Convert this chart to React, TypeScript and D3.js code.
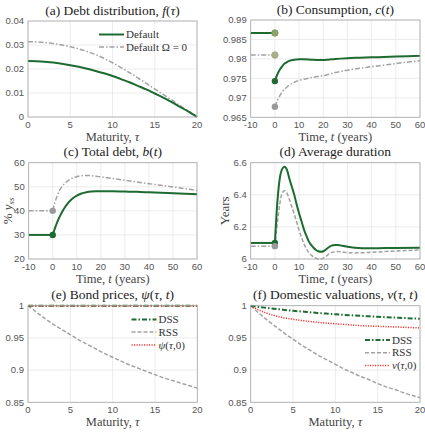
import React from "react"
import * as d3 from "d3"

const W = 425
const H = 436

const serif = "'Liberation Serif', 'Times New Roman', serif"
const sans = "'Liberation Sans', Arial, sans-serif"

const green = "#1d6b31"
const grey = "#a2a2a2"
const red = "#ee3a36"

// (a) debt distribution over maturity
const tau = [0, 1, 2, 3, 4, 5, 6, 7, 8, 9, 10, 11, 12, 13, 14, 15, 16, 17, 18, 19, 20]
const fDefault = [0.0233, 0.0232, 0.023, 0.0227, 0.0222, 0.0216, 0.0209, 0.0201, 0.0192, 0.0182, 0.0171,
  0.0158, 0.0145, 0.013, 0.0115, 0.0098, 0.0081, 0.0062, 0.0042, 0.0022, 0]
const fOmega0 = [0.0314, 0.0313, 0.031, 0.0306, 0.03, 0.0293, 0.0284, 0.0273, 0.026, 0.0244, 0.0226,
  0.0206, 0.0185, 0.0163, 0.014, 0.0117, 0.0094, 0.0071, 0.0047, 0.0024, 0]

// (b) consumption
const cPre = [0.98666, 0.981]
const tB = [0, 1, 2, 3, 4, 5, 6, 8, 10, 12, 15, 18, 20, 22, 25, 30, 35, 40, 45, 50, 55, 60]
const cDefault = [0.9743, 0.976, 0.9772, 0.9781, 0.9788, 0.9792, 0.9795, 0.9798, 0.9799, 0.9799, 0.9798,
  0.9797, 0.9797, 0.9798, 0.98, 0.9802, 0.9803, 0.9804, 0.9805, 0.9806, 0.9807, 0.9808]
const cOmega0 = [0.9677, 0.9693, 0.9705, 0.9715, 0.9722, 0.9728, 0.9733, 0.974, 0.9745, 0.9748, 0.9752,
  0.9755, 0.9757, 0.976, 0.9765, 0.9771, 0.9776, 0.978, 0.9784, 0.9788, 0.9792, 0.9795]

// (c) total debt
const bPre = [30, 40]
const tC = [0, 1, 2, 3, 4, 5, 6, 8, 10, 12, 14, 16, 18, 20, 25, 30, 35, 40, 45, 50, 55, 60]
const bDefault = [30, 33, 35.6, 37.8, 39.7, 41.4, 42.8, 44.9, 46.3, 47.2, 47.7, 48, 48.1, 48.1, 48.1, 48,
  47.9, 47.7, 47.5, 47.3, 47.1, 46.9]
const bOmega0 = [40, 43.8, 46.6, 48.8, 50.3, 51.4, 52.3, 53.5, 54.2, 54.6, 54.7, 54.6, 54.4, 54.1, 53.4,
  52.7, 52, 51.3, 50.6, 49.9, 49.2, 48.5]

// (d) average duration
const dPre = [6.1, 6.08]
const tD = [0, 1, 2, 3, 4, 5, 6, 7, 8, 9, 10, 11, 12, 13, 14, 15, 16, 17, 18, 19, 20, 21, 22, 23, 24, 25,
  26, 28, 30, 33, 36, 40, 50, 60]
const dDefault = [6.1, 6.35, 6.5, 6.56, 6.575, 6.555, 6.5, 6.45, 6.4, 6.34, 6.285, 6.235, 6.185, 6.145,
  6.11, 6.088, 6.07, 6.056, 6.048, 6.045, 6.048, 6.058, 6.07, 6.08, 6.086, 6.088, 6.087, 6.082, 6.076,
  6.07, 6.067, 6.067, 6.069, 6.07]
const dOmega0 = [6.08, 6.22, 6.34, 6.41, 6.425, 6.41, 6.37, 6.325, 6.28, 6.23, 6.18, 6.135, 6.095, 6.065,
  6.04, 6.025, 6.012, 6.005, 6.0, 6.0, 6.005, 6.015, 6.027, 6.037, 6.043, 6.046, 6.046, 6.043, 6.04,
  6.038, 6.039, 6.042, 6.05, 6.056]

// (e) bond prices
const psiDSS = [1, 1, 1, 1, 1, 1, 1, 1, 1, 1, 1, 1, 1, 1, 1, 1, 1, 1, 1, 1, 1]
const psiRSS = [1, 0.99, 0.98, 0.971, 0.963, 0.955, 0.947, 0.94, 0.933, 0.926, 0.92, 0.914, 0.908, 0.903,
  0.898, 0.893, 0.888, 0.884, 0.88, 0.876, 0.872]
const psi0 = [1, 1, 1, 1, 1, 1, 1, 1, 1, 1, 1, 1, 1, 1, 1, 1, 1, 1, 1, 1, 1]

// (f) domestic valuations
const vDSS = [1, 0.998, 0.9965, 0.995, 0.9935, 0.992, 0.991, 0.9898, 0.9887, 0.9877, 0.9867, 0.9858,
  0.985, 0.9842, 0.9835, 0.9828, 0.9821, 0.9815, 0.9809, 0.9803, 0.9797]
const vRSS = [1, 0.988, 0.977, 0.967, 0.957, 0.948, 0.939, 0.931, 0.923, 0.916, 0.909, 0.902, 0.896, 0.89,
  0.885, 0.879, 0.874, 0.87, 0.865, 0.861, 0.857]
const v0 = [1, 0.993, 0.988, 0.984, 0.981, 0.979, 0.977, 0.9755, 0.974, 0.973, 0.972, 0.971, 0.97, 0.969,
  0.9685, 0.968, 0.9675, 0.967, 0.9665, 0.966, 0.9655]

const tauTicks = [0, 5, 10, 15, 20]
const timeTicks = [-10, 0, 10, 20, 30, 40, 50, 60]

type Box = { x0: number; x1: number; y0: number; y1: number }

function path(x, y, xs: number[], ys: number[]) {
  return d3.line<number>()
    .x((d, i) => x(xs[i]))
    .y(d => y(d))
    .curve(d3.curveMonotoneX)(ys)
}

const serifStyle = { fontFamily: serif }
const sansStyle = { fontFamily: sans }

function Panel(props: {
  box: Box; xDomain: number[]; xTicks: number[]; yDomain: number[]; yTicks: number[];
  yFmt: (v: number) => string; title: React.ReactNode; xLabel: React.ReactNode;
  yLabel?: React.ReactNode; yLabelX?: number; draw: (x, y) => React.ReactNode
}) {
  const { box } = props
  const x = d3.scaleLinear().domain(props.xDomain).range([box.x0, box.x1])
  const y = d3.scaleLinear().domain(props.yDomain).range([box.y1, box.y0])
  const cx = (box.x0 + box.x1) / 2
  return (
    <g>
      <rect x={box.x0} y={box.y0} width={box.x1 - box.x0} height={box.y1 - box.y0} fill="#fff" />
      {props.xTicks.map(t => (
        <line key={"gx" + t} x1={x(t)} x2={x(t)} y1={box.y0} y2={box.y1} stroke="#e4e4e4" strokeWidth={0.7} />
      ))}
      {props.yTicks.map(t => (
        <line key={"gy" + t} x1={box.x0} x2={box.x1} y1={y(t)} y2={y(t)} stroke="#e4e4e4" strokeWidth={0.7} />
      ))}
      {props.draw(x, y)}
      <rect x={box.x0} y={box.y0} width={box.x1 - box.x0} height={box.y1 - box.y0} fill="none"
        stroke="#a8a8a8" strokeWidth={0.8} />
      {props.xTicks.map(t => (
        <text key={"tx" + t} x={x(t)} y={box.y1 + 10.5} textAnchor="middle" style={sansStyle}
          fontSize={9.5} fill="#555">{t}</text>
      ))}
      {props.yTicks.map(t => (
        <text key={"ty" + t} x={box.x0 - 4} y={y(t) + 3.3} textAnchor="end" style={sansStyle}
          fontSize={9.5} fill="#555">{props.yFmt(t)}</text>
      ))}
      <text x={cx} y={box.y0 - 6.5} textAnchor="middle" style={serifStyle} fontSize={13.5} fill="#222">
        {props.title}
      </text>
      <text x={cx} y={box.y1 + 23.5} textAnchor="middle" style={serifStyle} fontSize={12.5} fill="#444">
        {props.xLabel}
      </text>
      {props.yLabel && (
        <text transform={`translate(${props.yLabelX},${(box.y0 + box.y1) / 2}) rotate(-90)`}
          textAnchor="middle" style={serifStyle} fontSize={13} fill="#444">{props.yLabel}</text>
      )}
    </g>
  )
}

const it = (s: string) => <tspan fontStyle="italic">{s}</tspan>

function LegendRow({ x, y, color, dash, width, label }) {
  return (
    <g>
      <line x1={x} x2={x + 25} y1={y} y2={y} stroke={color} strokeWidth={width} strokeDasharray={dash} />
      <text x={x + 27} y={y + 3.5} style={serifStyle} fontSize={11} fill="#333">{label}</text>
    </g>
  )
}

const dashDot = "5,2,1.5,2"
const dashed = "4,2"
const dotted = "1.2,1.3"

export default function App() {
  const fmt2 = (v: number) => String(v)
  return (
    <svg width={W} height={H} style={{ position: "absolute", left: 0, top: 0, background: "#fff" }}>
      <Panel box={{ x0: 28, x1: 197, y0: 21, y1: 117 }} xDomain={[0, 20]} xTicks={tauTicks}
        yDomain={[0, 0.04]} yTicks={[0, 0.01, 0.02, 0.03, 0.04]} yFmt={fmt2}
        title={<>(a) Debt distribution, {it("f")}({it("τ")})</>}
        xLabel={<>Maturity, {it("τ")}</>}
        draw={(x, y) => (
          <g fill="none">
            <path d={path(x, y, tau, fOmega0)} stroke={grey} strokeWidth={1.5} strokeDasharray={dashDot} />
            <path d={path(x, y, tau, fDefault)} stroke={green} strokeWidth={2} />
            <LegendRow x={99} y={34.5} color={green} width={2} dash={null} label="Default" />
            <LegendRow x={99} y={47} color={grey} width={1.5} dash={dashDot} label="Default Ω = 0" />
          </g>
        )} />

      <Panel box={{ x0: 250.7, x1: 420, y0: 20, y1: 117.3 }} xDomain={[-10, 60]} xTicks={timeTicks}
        yDomain={[0.965, 0.99]} yTicks={[0.965, 0.97, 0.975, 0.98, 0.985, 0.99]} yFmt={fmt2}
        title={<>(b) Consumption, {it("c")}({it("t")})</>}
        xLabel={<>Time, {it("t")} (years)</>}
        draw={(x, y) => (
          <g fill="none">
            <path d={path(x, y, [-10, 0], [cPre[0], cPre[0]])} stroke={green} strokeWidth={2} />
            <path d={path(x, y, [-10, 0], [cPre[1], cPre[1]])} stroke={grey} strokeWidth={1.5} strokeDasharray={dashDot} />
            <path d={path(x, y, tB, cOmega0)} stroke={grey} strokeWidth={1.5} strokeDasharray={dashDot} />
            <path d={path(x, y, tB, cDefault)} stroke={green} strokeWidth={2} />
            <circle cx={x(0)} cy={y(cPre[0])} r={3.2} fill="#8ea468" stroke="#7d9a5c" />
            <circle cx={x(0)} cy={y(cPre[1])} r={3.2} fill="#abae88" stroke="#a3a97e" />
            <circle cx={x(0)} cy={y(cDefault[0])} r={3.2} fill={green} />
            <circle cx={x(0)} cy={y(cOmega0[0])} r={3.2} fill="#9a9a9a" />
          </g>
        )} />

      <Panel box={{ x0: 28.7, x1: 197, y0: 162.7, y1: 259 }} xDomain={[-10, 60]} xTicks={timeTicks}
        yDomain={[20, 60]} yTicks={[20, 30, 40, 50, 60]} yFmt={fmt2}
        title={<>(c) Total debt, {it("b")}({it("t")})</>}
        xLabel={<>Time, {it("t")} (years)</>}
        yLabelX={12}
        yLabel={<>% {it("y")}<tspan fontStyle="italic" fontSize={9} dy={2}>ss</tspan></>}
        draw={(x, y) => (
          <g fill="none">
            <path d={path(x, y, [-10, 0], [bPre[1], bPre[1]])} stroke={grey} strokeWidth={1.5} strokeDasharray={dashDot} />
            <path d={path(x, y, tC, bOmega0)} stroke={grey} strokeWidth={1.5} strokeDasharray={dashDot} />
            <path d={path(x, y, [-10, 0], [bPre[0], bPre[0]])} stroke={green} strokeWidth={2} />
            <path d={path(x, y, tC, bDefault)} stroke={green} strokeWidth={2} />
            <circle cx={x(0)} cy={y(bPre[1])} r={3.2} fill="#9a9a9a" />
            <circle cx={x(0)} cy={y(bPre[0])} r={3.2} fill={green} />
          </g>
        )} />

      <Panel box={{ x0: 250.7, x1: 420, y0: 162.7, y1: 259 }} xDomain={[-10, 60]} xTicks={timeTicks}
        yDomain={[6, 6.6]} yTicks={[6, 6.2, 6.4, 6.6]} yFmt={fmt2}
        title={<>(d) Average duration</>}
        xLabel={<>Time, {it("t")} (years)</>}
        yLabelX={229} yLabel={<>Years</>}
        draw={(x, y) => (
          <g fill="none">
            <path d={path(x, y, [-10, 0], [dPre[1], dPre[1]])} stroke={grey} strokeWidth={1.5} strokeDasharray={dashDot} />
            <path d={path(x, y, tD, dOmega0)} stroke={grey} strokeWidth={1.5} strokeDasharray={dashed} />
            <path d={path(x, y, [-10, 0], [dPre[0], dPre[0]])} stroke={green} strokeWidth={2} />
            <path d={path(x, y, tD, dDefault)} stroke={green} strokeWidth={2} />
            <circle cx={x(0)} cy={y(dPre[0])} r={3.2} fill={green} />
            <circle cx={x(0)} cy={y(dPre[1])} r={3.2} fill="#9a9a9a" />
          </g>
        )} />

      <Panel box={{ x0: 28, x1: 197.3, y0: 305.7, y1: 402.3 }} xDomain={[0, 20]} xTicks={tauTicks}
        yDomain={[0.85, 1]} yTicks={[0.85, 0.9, 0.95, 1]} yFmt={fmt2}
        title={<>(e) Bond prices, {it("ψ")}({it("τ")}, {it("t")})</>}
        xLabel={<>Maturity, {it("τ")}</>}
        draw={(x, y) => (
          <g fill="none">
            <path d={path(x, y, tau, psiRSS)} stroke={grey} strokeWidth={1.5} strokeDasharray={dashed} />
            <path d={path(x, y, tau, psiDSS)} stroke={green} strokeWidth={2} strokeDasharray={dashDot} />
            <path d={path(x, y, tau, psi0)} stroke={red} strokeWidth={1.5} strokeDasharray={dotted} />
            <LegendRow x={131.5} y={319.5} color={green} width={2} dash={dashDot} label="DSS" />
            <LegendRow x={131.5} y={332} color={grey} width={1.5} dash={dashed} label="RSS" />
            <LegendRow x={131.5} y={345} color={red} width={1.5} dash={dotted}
              label={<>{it("ψ")}({it("τ")},0)</>} />
          </g>
        )} />

      <Panel box={{ x0: 250.7, x1: 420, y0: 305.7, y1: 402.3 }} xDomain={[0, 20]} xTicks={tauTicks}
        yDomain={[0.85, 1]} yTicks={[0.85, 0.9, 0.95, 1]} yFmt={fmt2}
        title={<>(f) Domestic valuations, {it("v")}({it("τ")}, {it("t")})</>}
        xLabel={<>Maturity, {it("τ")}</>}
        draw={(x, y) => (
          <g fill="none">
            <path d={path(x, y, tau, vRSS)} stroke={grey} strokeWidth={1.5} strokeDasharray={dashed} />
            <path d={path(x, y, tau, v0)} stroke={red} strokeWidth={1.5} strokeDasharray={dotted} />
            <path d={path(x, y, tau, vDSS)} stroke={green} strokeWidth={2} strokeDasharray={dashDot} />
            <LegendRow x={365} y={340} color={green} width={2} dash={dashDot} label="DSS" />
            <LegendRow x={365} y={352.7} color={grey} width={1.5} dash={dashed} label="RSS" />
            <LegendRow x={365} y={365.5} color={red} width={1.5} dash={dotted}
              label={<>{it("v")}({it("τ")},0)</>} />
          </g>
        )} />
    </svg>
  )
}
